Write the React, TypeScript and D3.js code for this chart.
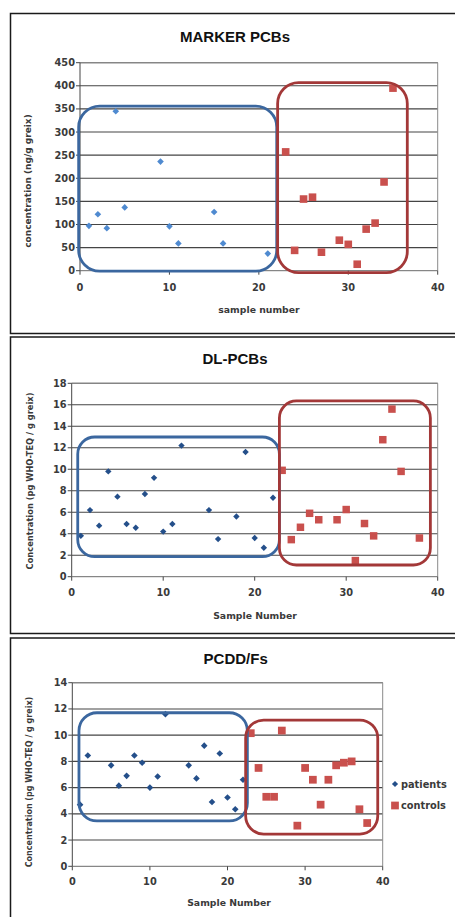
import React from 'react'
import * as d3 from 'd3'

// MARKER PCBs
const markerPatientsX = [1, 2, 3, 4, 5, 9, 10, 11, 15, 16, 21]
const markerPatientsY = [97, 122, 92, 345, 137, 236, 96, 59, 127, 59, 37]
const markerControlsX = [23, 24, 25, 26, 27, 29, 30, 31, 32, 33, 34, 35]
const markerControlsY = [257, 44, 155, 159, 40, 66, 57, 14, 90, 103, 192, 395]
const markerTicksY = [0, 50, 100, 150, 200, 250, 300, 350, 400, 450]
// group boxes: [x0, x1, y0, y1] in data units
const markerBlueBox = [-0.15, 22.0, -1, 356]
const markerRedBox = [22.1, 36.6, -4, 407]

// DL-PCBs
const dlPatientsX = [1, 2, 3, 4, 5, 6, 7, 8, 9, 10, 11, 12, 15, 16, 18, 19, 20, 21, 22]
const dlPatientsY = [3.8, 6.2, 4.75, 9.8, 7.45, 4.9, 4.55, 7.7, 9.2, 4.2, 4.9, 12.2, 6.2, 3.5, 5.6, 11.6, 3.6, 2.7, 7.35]
const dlControlsX = [23, 24, 25, 26, 27, 29, 30, 31, 32, 33, 34, 35, 36, 38]
const dlControlsY = [9.9, 3.45, 4.6, 5.9, 5.3, 5.3, 6.25, 1.5, 4.95, 3.8, 12.75, 15.6, 9.8, 3.6]
const dlTicksY = [0, 2, 4, 6, 8, 10, 12, 14, 16, 18]
const dlBlueBox = [0.66, 22.7, 1.86, 13.0]
const dlRedBox = [22.7, 39.2, 1.09, 16.36]

// PCDD/Fs
const pcddPatientsX = [1, 2, 5, 6, 7, 8, 9, 10, 11, 12, 15, 16, 17, 18, 19, 20, 21, 22]
const pcddPatientsY = [4.7, 8.45, 7.7, 6.15, 6.9, 8.45, 7.9, 6.0, 6.85, 11.6, 7.7, 6.7, 9.2, 4.9, 8.6, 5.25, 4.35, 6.6]
const pcddControlsX = [23, 24, 25, 26, 27, 29, 30, 31, 32, 33, 34, 35, 36, 37, 38]
const pcddControlsY = [10.15, 7.5, 5.3, 5.3, 10.35, 3.1, 7.5, 6.6, 4.7, 6.6, 7.7, 7.9, 8.0, 4.35, 3.3]
const pcddTicksY = [0, 2, 4, 6, 8, 10, 12, 14]
const pcddBlueBox = [0.86, 22.56, 3.46, 11.71]
const pcddRedBox = [22.34, 39.36, 2.46, 11.15]

const ticksX = [0, 10, 20, 30, 40]
const legendLabels = ['patients', 'controls']

const FONT = '"DejaVu Sans", sans-serif'
const TITLE_FONT = '"Liberation Sans", Arial, sans-serif'
const BLUE_BOX = '#3b679f'
const RED_BOX = '#a33838'
const RED = '#c9504d'
const INK = '#3a3a3a'

function Panel(props) {
  const p = props
  const x = d3.scaleLinear().domain([0, 40]).range([p.left, p.right])
  const y = d3.scaleLinear().domain([0, p.ticksY[p.ticksY.length - 1]]).range([p.bottom, p.top])
  const diamond = d3.symbol().type(d3.symbolDiamond2).size(p.dSize)
  const square = d3.symbol().type(d3.symbolSquare).size(p.sSize)
  const box = (b, color) => (
    <rect x={x(b[0])} y={y(b[3])} width={x(b[1]) - x(b[0])} height={y(b[2]) - y(b[3])}
      rx={p.radius} ry={p.radius} fill="none" stroke={color} strokeWidth={2.8} />
  )
  return (
    <g>
      <rect x={10.5} y={p.frameTop} width={460} height={p.frameBottom - p.frameTop}
        fill="#fff" stroke="#1a1a1a" strokeWidth={1.5} />
      <text x={p.titleX} y={p.titleY} textAnchor="middle" fontFamily={TITLE_FONT}
        fontWeight="bold" fontSize={15} fill="#111">{p.title}</text>
      {p.ticksY.map(t => (
        <g key={'gy' + t}>
          {t > 0 && <line x1={p.left} x2={p.right} y1={y(t)} y2={y(t)} stroke="#454545" strokeWidth={1.1} />}
          <line x1={p.left - 4} x2={p.left} y1={y(t)} y2={y(t)} stroke="#454545" />
          <text x={p.left - 5} y={y(t)} dy="0.36em" textAnchor="end" fontFamily={FONT}
            fontWeight="bold" fontSize={9.8} fill={INK}>{t}</text>
        </g>
      ))}
      <line x1={p.right} x2={p.right} y1={p.top} y2={p.bottom} stroke="#8a8a8a" />
      <line x1={p.left} x2={p.right} y1={p.top} y2={p.top} stroke="#8a8a8a" />
      <line x1={p.left} x2={p.left} y1={p.top} y2={p.bottom} stroke="#454545" />
      <line x1={p.left} x2={p.right} y1={p.bottom} y2={p.bottom} stroke="#6a6a6a" />
      {ticksX.map(t => (
        <g key={'gx' + t}>
          <line x1={x(t)} x2={x(t)} y1={p.bottom} y2={p.bottom + 4} stroke="#454545" />
          <text x={x(t)} y={p.bottom + p.xLabelDy} textAnchor="middle" fontFamily={FONT}
            fontWeight="bold" fontSize={9.8} fill={INK}>{t}</text>
        </g>
      ))}
      <text x={p.xTitleX} y={p.xTitleY} textAnchor="middle" fontFamily={FONT}
        fontWeight="bold" fontSize={9.3} fill={INK}>{p.xTitle}</text>
      <text transform={`translate(${p.yTitleX},${p.yTitleY}) rotate(-90)`} textAnchor="middle"
        fontFamily={FONT} fontWeight="bold" fontSize={p.yTitleSize} fill={INK}>{p.yTitle}</text>
      {p.patientsX.map((d, i) => (
        <path key={'p' + i} d={diamond()} transform={`translate(${x(d)},${y(p.patientsY[i])})`} fill={p.blue} />
      ))}
      {p.controlsX.map((d, i) => (
        <path key={'c' + i} d={square()} transform={`translate(${x(d)},${y(p.controlsY[i])})`} fill={RED} />
      ))}
      {box(p.blueBox, BLUE_BOX)}
      {box(p.redBox, RED_BOX)}
      {p.legend && (
        <g>
          <path d={d3.symbol().type(d3.symbolDiamond2).size(24)()} transform="translate(395,784)" fill={p.blue} />
          <text x={401} y={784} dy="0.36em" fontFamily={FONT} fontWeight="bold" fontSize={9.8} fill={INK}>{legendLabels[0]}</text>
          <path d={d3.symbol().type(d3.symbolSquare).size(60)()} transform="translate(395,805.5)" fill={RED} />
          <text x={401} y={805.5} dy="0.36em" fontFamily={FONT} fontWeight="bold" fontSize={9.8} fill={INK}>{legendLabels[1]}</text>
        </g>
      )}
    </g>
  )
}

export default function App() {
  return (
    <svg width={455} height={917} style={{ position: 'absolute', left: 0, top: 0, background: '#fff' }}>
      <Panel title="MARKER PCBs" frameTop={13.5} frameBottom={333.5} titleX={235} titleY={42}
        left={80} right={437.7} top={62.7} bottom={270.7} ticksY={markerTicksY} xLabelDy={20}
        xTitle="sample number" xTitleX={259} xTitleY={313}
        yTitle="concentration (ng/g greix)" yTitleX={31} yTitleY={181} yTitleSize={9}
        patientsX={markerPatientsX} patientsY={markerPatientsY}
        controlsX={markerControlsX} controlsY={markerControlsY}
        blueBox={markerBlueBox} redBox={markerRedBox} radius={21}
        blue="#4f8ad0" dSize={28} sSize={58} />
      <Panel title="DL-PCBs" frameTop={337} frameBottom={633.5} titleX={235} titleY={363.5}
        left={71.7} right={437.7} top={383.3} bottom={576.7} ticksY={dlTicksY} xLabelDy={19.5}
        xTitle="Sample Number" xTitleX={255} xTitleY={619}
        yTitle="Concentration (pg WHO-TEQ / g greix)" yTitleX={33} yTitleY={481} yTitleSize={8.3}
        patientsX={dlPatientsX} patientsY={dlPatientsY}
        controlsX={dlControlsX} controlsY={dlControlsY}
        blueBox={dlBlueBox} redBox={dlRedBox} radius={17}
        blue="#244f8a" dSize={26} sSize={56} />
      <Panel title="PCDD/Fs" frameTop={638} frameBottom={940} titleX={235.7} titleY={663.5}
        left={72.3} right={382.7} top={682.7} bottom={866.3} ticksY={pcddTicksY} xLabelDy={18.5}
        xTitle="Sample Number" xTitleX={229} xTitleY={906}
        yTitle="Concentration (pg WHO-TEQ / g greix)" yTitleX={32} yTitleY={782} yTitleSize={8}
        patientsX={pcddPatientsX} patientsY={pcddPatientsY}
        controlsX={pcddControlsX} controlsY={pcddControlsY}
        blueBox={pcddBlueBox} redBox={pcddRedBox} radius={18}
        blue="#244f8a" dSize={28} sSize={60} legend />
    </svg>
  )
}
